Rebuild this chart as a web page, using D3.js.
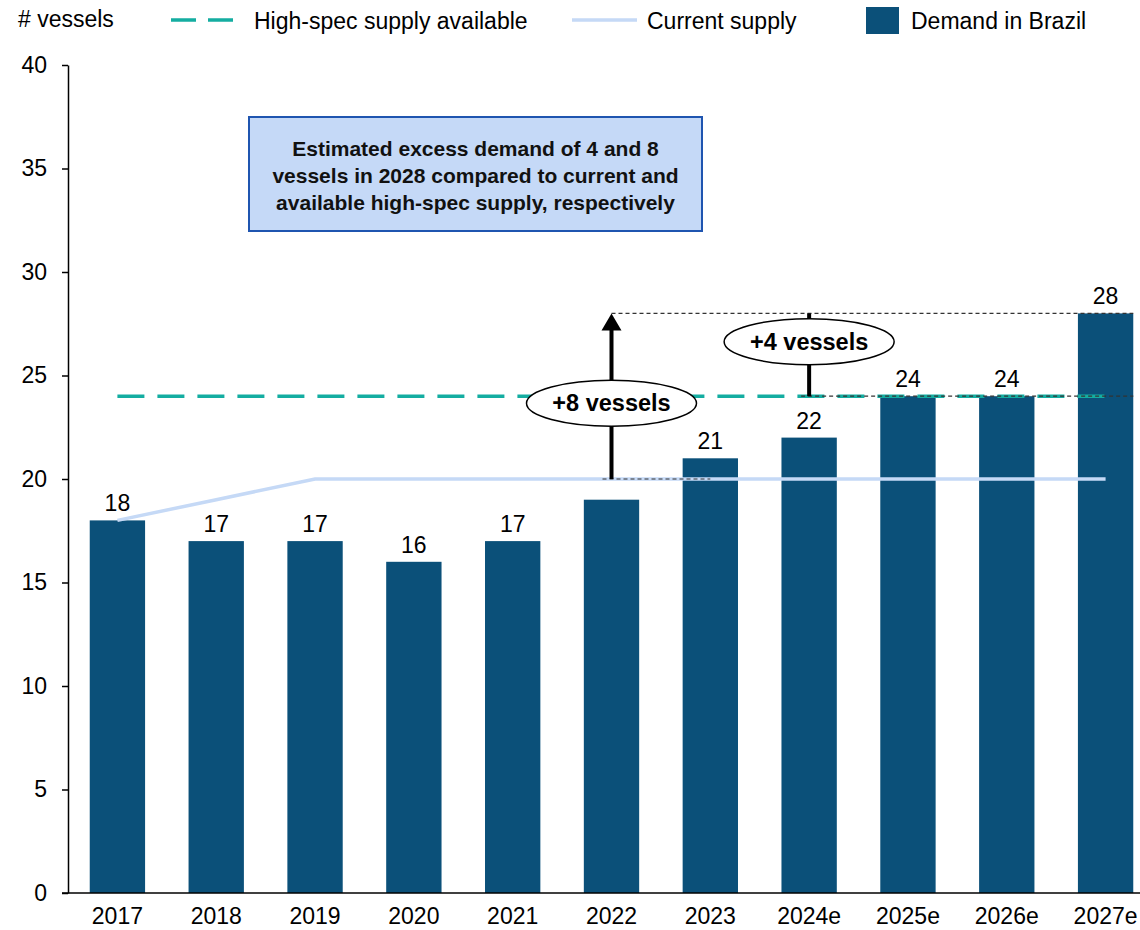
<!DOCTYPE html>
<html><head><meta charset="utf-8">
<script src="https://cdn.jsdelivr.net/npm/d3@7"></script>
<style>body{margin:0;background:#fff;}svg{display:block;font-family:Arial,"Liberation Sans",sans-serif;}</style>
</head><body><svg id="c" width="1140" height="930"></svg>
<script>
const categories = ["2017","2018","2019","2020","2021","2022","2023","2024e","2025e","2026e","2027e"];
const demand = [18,17,17,16,17,19,21,22,24,24,28];
const showLabel = [true,true,true,true,true,false,true,true,true,true,true];
const currentSupply = [18,19,20,20,20,20,20,20,20,20,20];
const highSpecSupply = [24,24,24,24,24,24,24,24,24,24,24];
const yTicks = [0,5,10,15,20,25,30,35,40];
const legendLabels = ["High-spec supply available","Current supply","Demand in Brazil"];
const boxLines = ["Estimated excess demand of 4 and 8","vessels in 2028 compared to current and","available high-spec supply, respectively"];

const svg = d3.select("#c");
const FS = 23;
const x = d3.scaleBand().domain(categories).range([68,1155]).paddingInner(0.44).paddingOuter(0.22);
const y = d3.scaleLinear().domain([0,40]).range([893,65]);
const cx = c => x(c) + x.bandwidth()/2;
const barColor = "#0B5079", teal = "#14ADA1", light = "#C5D9F6";

// bars
svg.append("g").selectAll("rect").data(categories).join("rect")
  .attr("x", d => x(d)).attr("width", x.bandwidth())
  .attr("y", (d,i) => y(demand[i])).attr("height", (d,i) => y(0)-y(demand[i]))
  .attr("fill", barColor);

// value labels
svg.append("g").selectAll("text").data(categories.filter((d,i)=>showLabel[i])).join("text")
  .attr("x", d => cx(d)).attr("y", d => y(demand[categories.indexOf(d)]) - 9)
  .attr("text-anchor","middle").attr("font-size",FS).attr("fill","#000")
  .text(d => demand[categories.indexOf(d)]);

// lines
const line = d3.line().x((d,i) => cx(categories[i])).y(d => y(d));
svg.append("path").datum(currentSupply).attr("d", line).attr("fill","none")
  .attr("stroke", light).attr("stroke-width",3.5);
svg.append("path").datum(highSpecSupply).attr("d", line).attr("fill","none")
  .attr("stroke", teal).attr("stroke-width",3.5).attr("stroke-dasharray","27,13");

// axes
const yAxis = svg.append("g").attr("transform","translate(68,0)")
  .call(d3.axisLeft(y).tickValues(yTicks).tickSize(6).tickSizeOuter(0).tickPadding(15));
yAxis.select(".domain").attr("stroke","#000").attr("stroke-width",1.5);
yAxis.selectAll(".tick line").attr("stroke","#000").attr("stroke-width",1.5);
yAxis.selectAll("text").attr("font-size",FS).attr("fill","#000").attr("font-family","Arial, Liberation Sans, sans-serif");

const xAxis = svg.append("g").attr("transform","translate(0,893)")
  .call(d3.axisBottom(x).tickSize(0).tickPadding(15));
xAxis.select(".domain").attr("stroke","#000").attr("stroke-width",1.5).attr("d","M62,0H1140");
xAxis.selectAll("text").attr("font-size",FS).attr("fill","#000").attr("font-family","Arial, Liberation Sans, sans-serif");

// dotted guide lines
const g = svg.append("g");
const dl = (x1,x2,yy) => g.append("line").attr("x1",x1).attr("x2",x2).attr("y1",yy).attr("y2",yy)
  .attr("stroke","#333").attr("stroke-width",1.2).attr("stroke-dasharray","4,3");
dl(cx("2022"), x("2027e")+x.bandwidth(), y(demand[10]));
dl(cx("2022")-9, cx("2023"), y(currentSupply[5]));
dl(cx("2024e")-8, x("2027e")+x.bandwidth(), y(highSpecSupply[7]));

// arrow +8
g.append("line").attr("x1",cx("2022")).attr("x2",cx("2022"))
  .attr("y1",y(currentSupply[5])).attr("y2",y(demand[10])+16)
  .attr("stroke","#000").attr("stroke-width",4);
g.append("path").attr("d",`M${cx("2022")-10},${y(demand[10])+17} L${cx("2022")},${y(demand[10])} L${cx("2022")+10},${y(demand[10])+17} Z`).attr("fill","#000");
// arrow +4 stem
g.append("line").attr("x1",cx("2024e")).attr("x2",cx("2024e"))
  .attr("y1",y(highSpecSupply[7])).attr("y2",y(demand[10]))
  .attr("stroke","#000").attr("stroke-width",4);

// ellipses
const ell = (xc,yc,label) => {
  g.append("ellipse").attr("cx",xc).attr("cy",yc).attr("rx",85).attr("ry",23)
    .attr("fill","#fff").attr("stroke","#000").attr("stroke-width",1.5);
  g.append("text").attr("x",xc).attr("y",yc+8).attr("text-anchor","middle")
    .attr("font-size",23.5).attr("font-weight","bold").text(label);
};
ell(cx("2022"), y((currentSupply[5]+demand[10])/2)+7, "+8 vessels");
ell(cx("2024e"), y((highSpecSupply[7]+demand[10])/2)-13, "+4 vessels");

// annotation box
svg.append("rect").attr("x",249).attr("y",117).attr("width",453).attr("height",114)
  .attr("fill","#C5D9F7").attr("stroke","#1F55B0").attr("stroke-width",2);
svg.append("g").selectAll("text").data(boxLines).join("text")
  .attr("x",475.5).attr("y",(d,i)=>156+i*27).attr("text-anchor","middle")
  .attr("font-size",21).attr("font-weight","bold").attr("fill","#111").text(d=>d);

// legend
const lg = svg.append("g").attr("font-size",FS).attr("fill","#000");
lg.append("text").attr("x",18).attr("y",27).text("# vessels");
lg.append("line").attr("x1",171).attr("x2",243).attr("y1",20).attr("y2",20)
  .attr("stroke",teal).attr("stroke-width",3.5).attr("stroke-dasharray","25,12");
lg.append("text").attr("x",254).attr("y",29).text(legendLabels[0]);
lg.append("line").attr("x1",572).attr("x2",637).attr("y1",20).attr("y2",20)
  .attr("stroke",light).attr("stroke-width",3.5);
lg.append("text").attr("x",647).attr("y",29).text(legendLabels[1]);
lg.append("rect").attr("x",866).attr("y",7).attr("width",33).attr("height",27).attr("fill",barColor);
lg.append("text").attr("x",911).attr("y",29).text(legendLabels[2]);
</script></body></html>
